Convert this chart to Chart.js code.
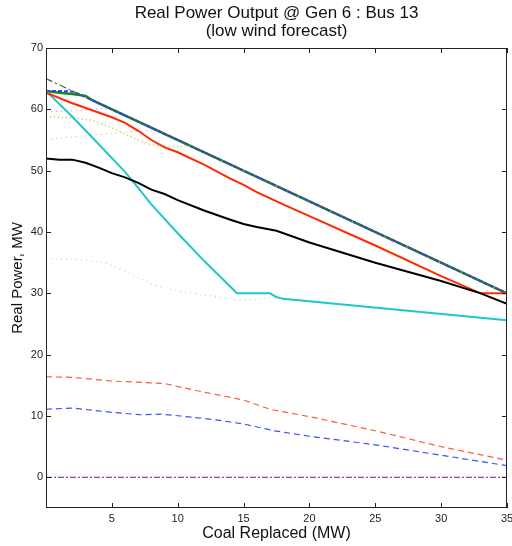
<!DOCTYPE html>
<html>
<head>
<meta charset="utf-8">
<script src="https://cdn.jsdelivr.net/npm/chart.js@4.4.1/dist/chart.umd.min.js"></script>
<style>
  html, body { margin: 0; padding: 0; background: #fff; }
  #wrap { width: 512px; height: 546px; }
</style>
</head>
<body>
<div id="wrap"><canvas id="chart" width="512" height="546"></canvas></div>
<script>
// axis ticks
const xTicks = [5, 10, 15, 20, 25, 30, 35];
const yTicks = [0, 10, 20, 30, 40, 50, 60, 70];
const titleLines = ['Real Power Output @ Gen 6 : Bus 13', '(low wind forecast)'];

// series (x = coal replaced MW, y = real power MW)
const redX   = [0, 2, 5, 6, 7, 8, 9, 10, 12, 14, 15, 16, 18, 20, 25, 30, 33, 35];
const redY   = [62.7, 61, 58.7, 57.8, 56.5, 55, 53.8, 53, 51, 48.7, 47.7, 46.5, 44.5, 42.6, 37.8, 32.8, 30, 30];

const blackX = [0, 1, 2, 3, 4, 5, 6, 7, 8, 9, 10, 12, 14, 15, 16, 17.5, 20, 25, 30, 33, 35];
const blackY = [52, 51.8, 51.8, 51.3, 50.5, 49.6, 48.9, 48, 46.9, 46.2, 45.2, 43.5, 42, 41.3, 40.8, 40.2, 38.3, 35, 32, 30, 28.3];

const cyanX  = [0, 2, 4, 6, 7, 8, 10, 12, 14.5, 17, 17.5, 18, 35];
const cyanY  = [63, 58.8, 54.3, 49.8, 47.2, 44.5, 39.8, 35.3, 30, 30, 29.4, 29.1, 25.6];

const cyanDotX = [0, 2, 3, 4.6, 6, 7.1, 8, 9.2, 10.5, 12.2, 14.7, 16, 17, 18, 35];
const cyanDotY = [35.6, 35.6, 35.4, 34.9, 33.6, 32.5, 31.5, 30.8, 30.2, 29.7, 28.9, 29, 29.4, 29.1, 25.6];

const refX   = [0, 35];
const refY   = [65, 30];

const blueTopX  = [0, 1, 2, 2.7, 35];
const blueTopY  = [63, 63, 62.9, 62.3, 30];
const greenX    = [0, 1, 2, 3, 3.5, 35];
const greenY    = [63, 62.7, 62.5, 62.2, 61.5, 30];
const violetX   = [0, 2, 4, 4.9, 35];
const violetY   = [59.6, 59.8, 60.1, 60.1, 30];
const oliveX    = [0, 2, 3.5, 5, 6, 7, 8, 9, 10.5, 11, 35];
const oliveY    = [58.8, 58.6, 58.2, 57, 56, 55, 54.2, 54, 54, 54, 30];
const pinkX     = [0, 2, 4, 6, 8, 8.5, 35];
const pinkY     = [55.1, 55.5, 55.9, 56.3, 56.6, 56.5, 30];

const redDashX  = [0, 2, 5, 8, 9, 10.2, 12.2, 15, 17, 20, 25, 30, 35];
const redDashY  = [16.4, 16.3, 15.7, 15.4, 15.3, 14.7, 13.8, 12.6, 11.1, 9.9, 7.6, 5.0, 2.8];
const blueDashX = [0, 2, 5, 7.2, 8.8, 10.2, 12.8, 15, 17.3, 20, 25, 30, 35];
const blueDashY = [11.1, 11.3, 10.6, 10.2, 10.3, 10.0, 9.4, 8.7, 7.6, 6.7, 5.3, 3.6, 1.9];

const zeroX = [0, 35];
const zeroY = [0, 0];

const pts = (xs, ys) => xs.map((x, i) => ({ x, y: ys[i] }));

function series(xs, ys, color, width, dash) {
  return {
    data: pts(xs, ys),
    borderColor: color,
    borderWidth: width,
    borderDash: dash || [],
    pointRadius: 0,
    tension: 0,
    fill: false
  };
}

// first dataset ends up on top
const datasets = [
  series(blackX, blackY, '#000000', 2),
  series(redX, redY, '#ff2a00', 2),
  series(cyanX, cyanY, '#1ec8c8', 2),
  series(refX, refY, '#555555', 1.2, [7, 3, 2, 3]),
  series(blueTopX, blueTopY, '#2a40ff', 2, [4, 2]),
  series(oliveX, oliveY, '#c8c830', 1.5, [1, 3]),
  series(greenX, greenY, '#138a13', 2.5),
  series(violetX, violetY, '#c890f0', 1.2, [1, 4]),
  series(pinkX, pinkY, '#ffa0a0', 1.2, [1, 4]),
  series(cyanDotX, cyanDotY, '#90e0e0', 1.2, [1, 4]),
  series(redDashX, redDashY, '#ff5a40', 1.2, [6, 4]),
  series(blueDashX, blueDashY, '#3c50ff', 1.2, [6, 4]),
  series(zeroX, zeroY, '#e040e0', 1.2, [1, 3]),
  series(zeroX, zeroY, '#333366', 1, [6, 2, 2, 2])
];

const FONT = '"Liberation Sans", Arial, sans-serif';

// title centred over the plot area, like matlab does
const titlePlugin = {
  id: 'plotTitle',
  afterDraw(chart) {
    const { ctx, chartArea: a } = chart;
    const cx = (a.left + a.right) / 2;
    ctx.save();
    ctx.fillStyle = '#111';
    ctx.font = '17px ' + FONT;
    ctx.textAlign = 'center';
    ctx.textBaseline = 'middle';
    ctx.fillText(titleLines[0], cx, 13);
    ctx.fillText(titleLines[1], cx, 31);
    ctx.restore();
  }
};

// matlab-like frame with inward ticks
const framePlugin = {
  id: 'frame',
  afterDraw(chart) {
    const { ctx, chartArea: a, scales } = chart;
    ctx.save();
    ctx.strokeStyle = '#222';
    ctx.lineWidth = 1;
    ctx.strokeRect(a.left + 0.5, a.top + 0.5, a.right - a.left - 1, a.bottom - a.top - 1);
    const len = 5;
    ctx.beginPath();
    xTicks.forEach(v => {
      const px = Math.round(scales.x.getPixelForValue(v)) + 0.5;
      ctx.moveTo(px, a.bottom); ctx.lineTo(px, a.bottom - len);
      ctx.moveTo(px, a.top); ctx.lineTo(px, a.top + len);
    });
    yTicks.forEach(v => {
      const py = Math.round(scales.y.getPixelForValue(v)) + 0.5;
      ctx.moveTo(a.left, py); ctx.lineTo(a.left + len, py);
      ctx.moveTo(a.right, py); ctx.lineTo(a.right - len, py);
    });
    ctx.stroke();
    ctx.restore();
  }
};

new Chart(document.getElementById('chart'), {
  type: 'line',
  data: { datasets },
  plugins: [framePlugin, titlePlugin],
  options: {
    responsive: false,
    animation: false,
    layout: { autoPadding: false, padding: { left: 0, right: 5, top: 48, bottom: 0 } },
    plugins: {
      legend: { display: false },
      tooltip: { enabled: false },
      title: { display: false }
    },
    scales: {
      x: {
        type: 'linear',
        min: 0,
        max: 35,
        afterBuildTicks: s => { s.ticks = xTicks.map(v => ({ value: v })); },
        afterFit: s => { s.height = 38; s.paddingLeft = 0; s.paddingRight = 0; },
        grid: { display: false, drawTicks: false },
        border: { display: false },
        ticks: { color: '#222', padding: 4, maxRotation: 0, font: { family: FONT, size: 11 } },
        title: {
          display: true,
          text: 'Coal Replaced (MW)',
          color: '#111',
          font: { family: FONT, size: 16 },
          padding: { top: 0, bottom: 3 }
        }
      },
      y: {
        type: 'linear',
        min: -5,
        max: 70,
        afterBuildTicks: s => { s.ticks = yTicks.map(v => ({ value: v })); },
        afterFit: s => { s.width = 46; s.paddingTop = 0; s.paddingBottom = 0; },
        grid: { display: false, drawTicks: false },
        border: { display: false },
        ticks: { color: '#222', padding: 3, font: { family: FONT, size: 11 } },
        title: {
          display: true,
          text: 'Real Power, MW',
          color: '#111',
          font: { family: FONT, size: 15 },
          padding: { top: 9, bottom: 0 }
        }
      }
    }
  }
});
</script>
</body>
</html>
